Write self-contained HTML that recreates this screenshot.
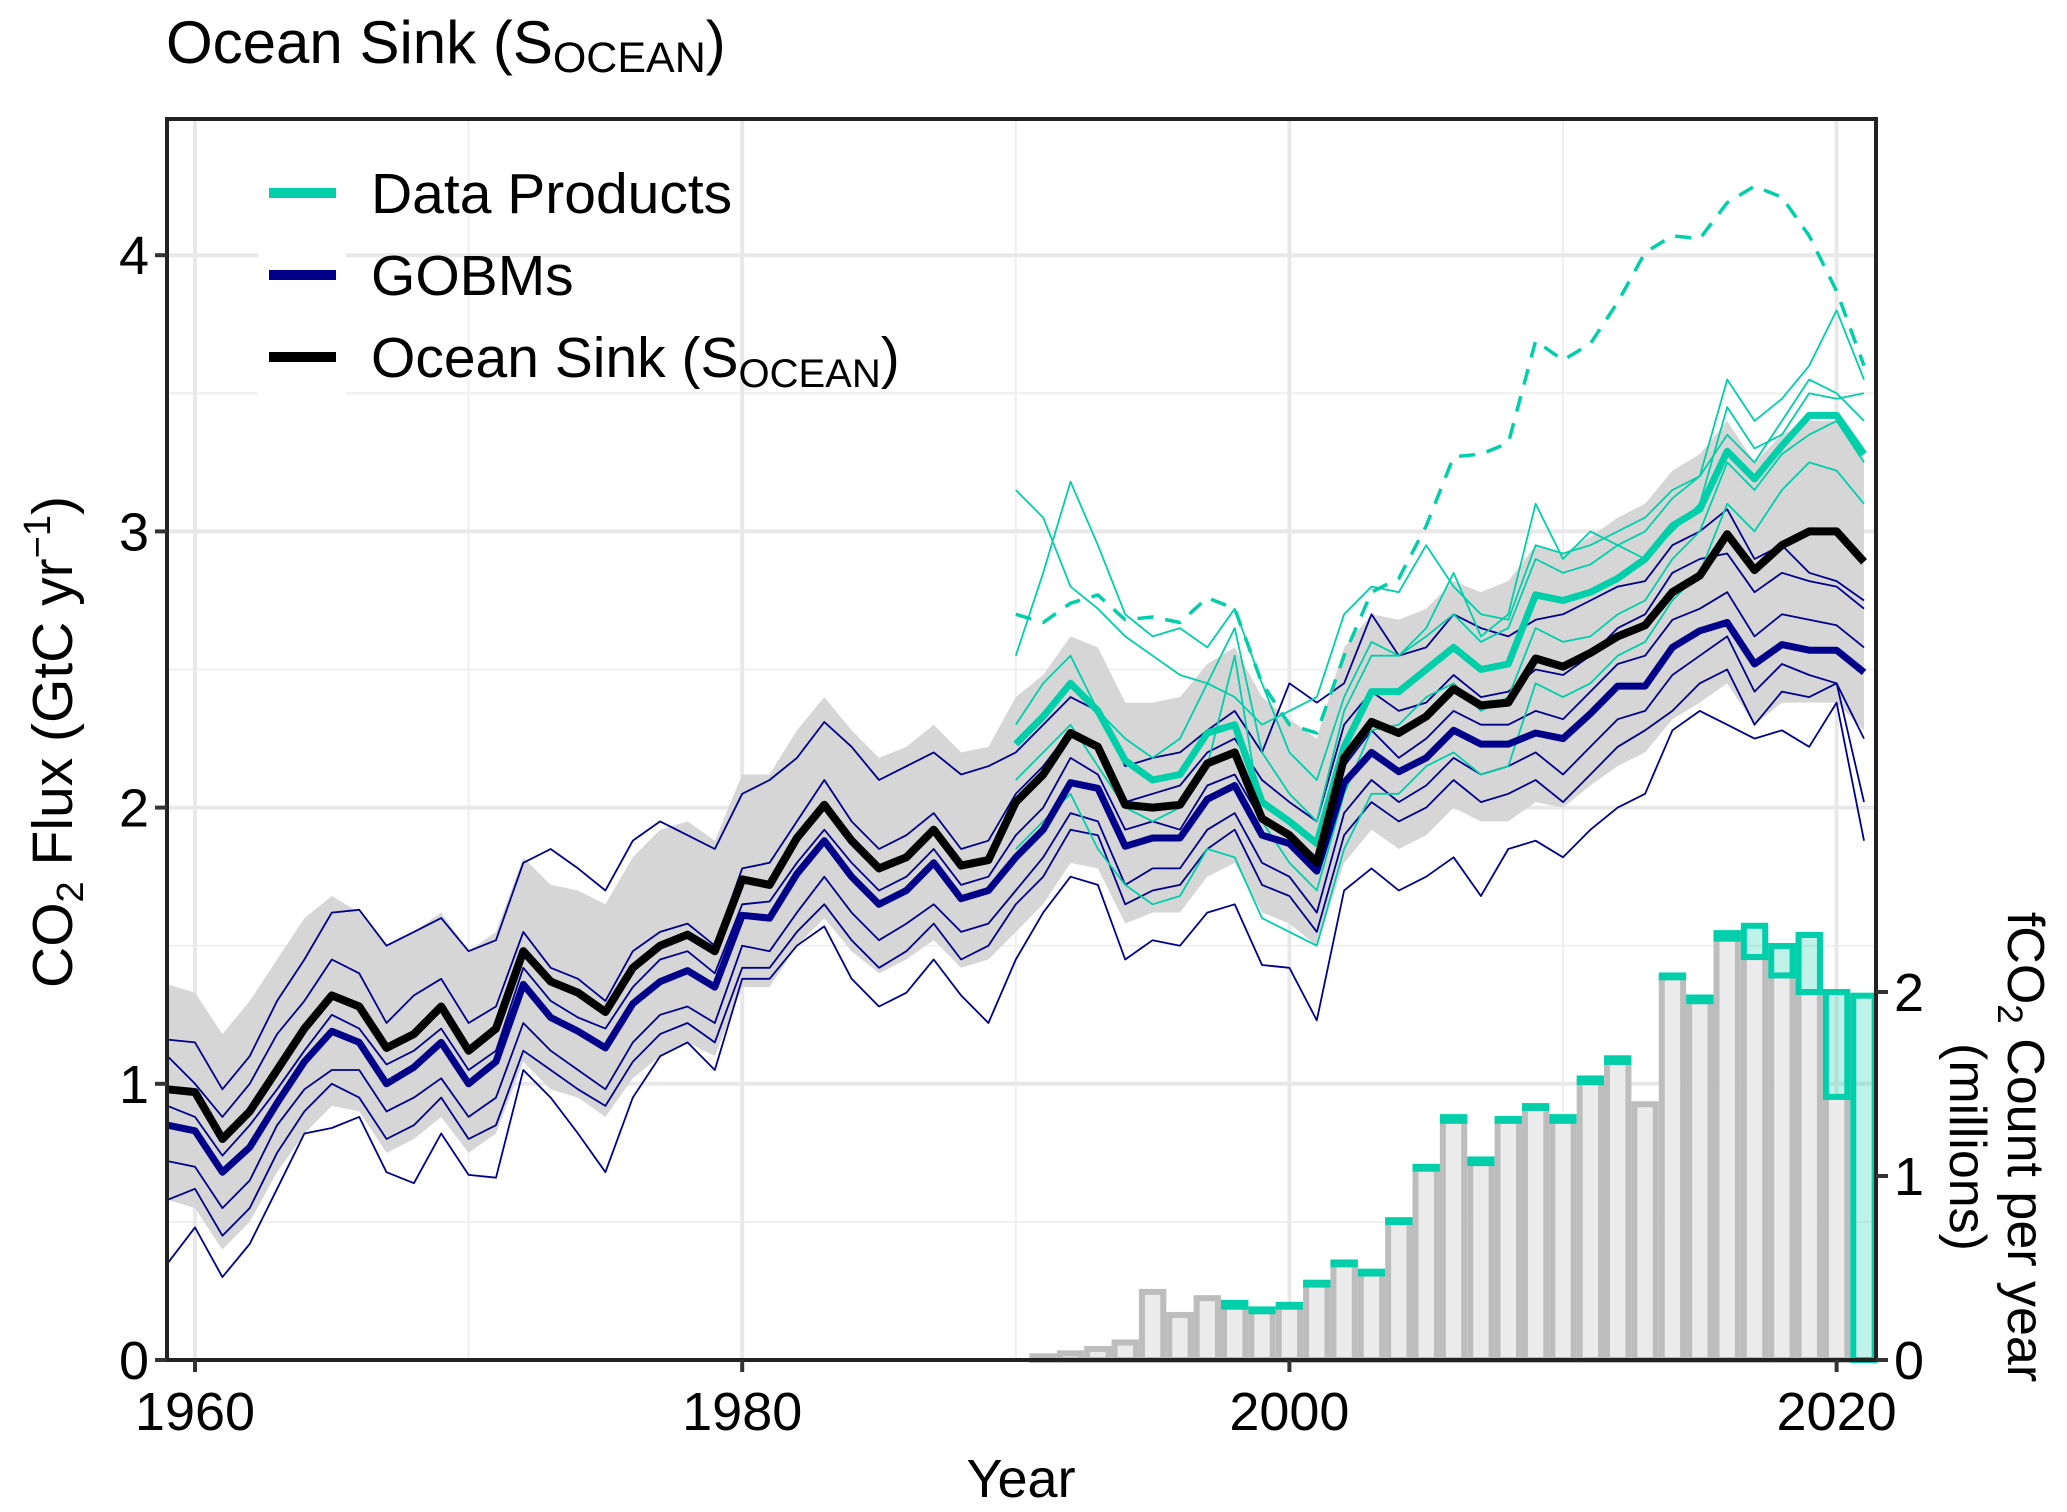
<!DOCTYPE html>
<html><head><meta charset="utf-8"><style>
html,body{margin:0;padding:0;background:#fff;}
svg{display:block;font-family:"Liberation Sans",Arial,sans-serif;}
</style></head><body>
<svg id="chart" width="2067" height="1512" viewBox="0 0 2067 1512" xmlns="http://www.w3.org/2000/svg">
<text x="166" y="63" font-size="60">Ocean Sink (S<tspan font-size="43" dy="9">OCEAN</tspan><tspan dy="-9">)</tspan></text>
<g id="grid"></g>
<g id="band"></g>
<g id="bars"></g>
<g id="lines"></g>
<g id="legend">
  <rect x="258" y="160" width="88" height="240" fill="#fff"/>
  <rect x="269" y="188" width="67" height="10" fill="#00cfaa"/>
  <text x="371" y="213" font-size="57">Data Products</text>
  <rect x="269" y="270" width="67" height="10" fill="#00008b"/>
  <text x="371" y="295" font-size="57">GOBMs</text>
  <rect x="269" y="352" width="67" height="10" fill="#000"/>
  <text x="371" y="377" font-size="57">Ocean Sink (S<tspan font-size="40" dy="10">OCEAN</tspan><tspan dy="-10">)</tspan></text>
</g>
<rect x="167" y="119" width="1709" height="1241" fill="none" stroke="#222" stroke-width="4"/>
<g id="axes"></g>
<text x="1021" y="1497" font-size="54" text-anchor="middle">Year</text>
<text transform="translate(72,742) rotate(-90)" font-size="57" text-anchor="middle">CO<tspan font-size="38" dy="11">2</tspan><tspan dy="-11"> Flux (GtC yr</tspan><tspan font-size="38" dy="-22">−1</tspan><tspan dy="22">)</tspan></text>
<text transform="translate(2008,1147) rotate(90)" font-size="52" text-anchor="middle">fCO<tspan font-size="35" dy="10">2</tspan><tspan dy="-10"> Count per year</tspan></text>
<text transform="translate(1950,1147) rotate(90)" font-size="52" text-anchor="middle">(millions)</text>
</svg>
<script>
const years = [];for(let y=1959;y<=2021;y++)years.push(y);
const dpYears = [];for(let y=1990;y<=2021;y++)dpYears.push(y);
const xTicks = [1960,1980,2000,2020];
const xMinor = [1970,1990,2010];
const yTicks = [0,1,2,3,4];
const yMinor = [0.5,1.5,2.5,3.5];
const rTicks = [0,1,2];
const socean = [0.98,0.97,0.80,0.90,1.05,1.20,1.32,1.28,1.13,1.18,1.28,1.12,1.20,1.48,1.37,1.33,1.26,1.42,1.50,1.54,1.48,1.74,1.72,1.89,2.01,1.88,1.78,1.82,1.92,1.79,1.81,2.02,2.12,2.27,2.22,2.01,2.00,2.01,2.16,2.20,1.96,1.90,1.80,2.18,2.31,2.27,2.33,2.43,2.37,2.38,2.54,2.51,2.56,2.62,2.66,2.78,2.84,2.99,2.86,2.95,3.00,3.00,2.89];
const gobmMean = [0.85,0.83,0.68,0.77,0.93,1.08,1.19,1.15,1.00,1.06,1.15,1.00,1.08,1.36,1.24,1.19,1.13,1.29,1.37,1.41,1.35,1.61,1.60,1.76,1.88,1.75,1.65,1.70,1.80,1.67,1.70,1.82,1.92,2.09,2.07,1.86,1.89,1.89,2.03,2.08,1.90,1.87,1.77,2.09,2.20,2.13,2.18,2.28,2.23,2.23,2.27,2.25,2.34,2.44,2.44,2.58,2.64,2.67,2.52,2.59,2.57,2.57,2.49];
const dpMean = [2.23,2.33,2.45,2.35,2.17,2.10,2.12,2.27,2.30,2.02,1.95,1.87,2.22,2.42,2.42,2.50,2.58,2.50,2.52,2.77,2.75,2.78,2.83,2.90,3.02,3.08,3.29,3.19,3.31,3.42,3.42,3.28];
const dpDashed = [2.70,2.67,2.74,2.77,2.68,2.69,2.67,2.76,2.72,2.45,2.30,2.27,2.55,2.78,2.83,3.02,3.27,3.28,3.32,3.69,3.62,3.68,3.83,4.01,4.07,4.06,4.19,4.25,4.21,4.07,3.87,3.60];
const bandUpper = [1.36,1.33,1.18,1.30,1.45,1.60,1.68,1.62,1.50,1.55,1.62,1.48,1.55,1.82,1.72,1.70,1.65,1.82,1.92,1.95,1.88,2.12,2.12,2.28,2.40,2.28,2.18,2.22,2.30,2.20,2.22,2.40,2.48,2.62,2.58,2.38,2.38,2.40,2.52,2.58,2.40,2.32,2.25,2.58,2.70,2.68,2.72,2.82,2.78,2.82,2.95,2.92,2.98,3.05,3.10,3.22,3.28,3.40,3.25,3.35,3.40,3.40,3.30];
const bandLower = [0.58,0.55,0.40,0.50,0.68,0.82,0.92,0.90,0.75,0.80,0.88,0.75,0.82,1.08,0.98,0.95,0.88,1.02,1.10,1.15,1.10,1.35,1.35,1.50,1.60,1.48,1.40,1.45,1.52,1.42,1.45,1.55,1.65,1.80,1.78,1.58,1.62,1.62,1.75,1.80,1.62,1.58,1.50,1.80,1.92,1.85,1.90,2.00,1.95,1.95,2.02,2.00,2.08,2.15,2.20,2.32,2.38,2.45,2.30,2.38,2.38,2.38,2.28];
const gobm1 = [1.16,1.15,0.98,1.10,1.30,1.45,1.62,1.63,1.50,1.55,1.60,1.48,1.52,1.80,1.85,1.78,1.70,1.88,1.95,1.90,1.85,2.05,2.10,2.18,2.31,2.22,2.10,2.15,2.20,2.12,2.15,2.20,2.30,2.40,2.35,2.15,2.18,2.20,2.28,2.35,2.20,2.45,2.38,2.45,2.70,2.55,2.58,2.70,2.65,2.62,2.68,2.70,2.75,2.80,2.82,2.95,3.00,3.08,2.90,2.95,2.85,2.82,2.75];
const gobm2 = [0.35,0.48,0.30,0.42,0.62,0.82,0.84,0.88,0.68,0.64,0.82,0.67,0.66,1.05,0.95,0.82,0.68,0.95,1.10,1.15,1.05,1.38,1.38,1.50,1.57,1.38,1.28,1.33,1.45,1.32,1.22,1.45,1.62,1.75,1.72,1.45,1.52,1.50,1.62,1.65,1.43,1.42,1.23,1.70,1.78,1.70,1.75,1.82,1.68,1.85,1.88,1.82,1.92,2.00,2.05,2.28,2.35,2.30,2.25,2.28,2.22,2.38,1.88];
const gobm3 = [0.92,0.88,0.74,0.85,0.98,1.12,1.25,1.20,1.07,1.12,1.20,1.05,1.12,1.42,1.30,1.24,1.20,1.35,1.45,1.48,1.40,1.65,1.66,1.80,1.92,1.80,1.70,1.75,1.85,1.72,1.75,1.90,2.00,2.18,2.12,1.92,1.95,1.92,2.08,2.12,1.95,1.90,1.82,2.15,2.28,2.18,2.25,2.35,2.30,2.30,2.35,2.32,2.42,2.52,2.55,2.68,2.72,2.78,2.62,2.70,2.68,2.66,2.58];
const gobm4 = [0.72,0.70,0.55,0.65,0.85,0.98,1.05,1.05,0.90,0.95,1.02,0.88,0.95,1.22,1.12,1.05,0.98,1.15,1.25,1.28,1.22,1.50,1.48,1.62,1.75,1.62,1.52,1.58,1.65,1.55,1.58,1.70,1.82,1.98,1.95,1.72,1.78,1.78,1.92,1.98,1.80,1.75,1.62,1.98,2.10,2.02,2.08,2.18,2.12,2.15,2.20,2.12,2.22,2.32,2.35,2.48,2.55,2.62,2.42,2.52,2.48,2.45,2.25];
const gobm5 = [1.10,1.00,0.88,1.00,1.18,1.30,1.45,1.40,1.22,1.32,1.38,1.22,1.28,1.55,1.42,1.38,1.30,1.48,1.55,1.58,1.50,1.78,1.80,1.95,2.10,1.95,1.85,1.90,1.98,1.85,1.88,2.05,2.15,2.28,2.22,2.02,2.05,2.08,2.20,2.25,2.10,2.02,1.95,2.30,2.42,2.35,2.38,2.48,2.40,2.42,2.50,2.48,2.55,2.65,2.70,2.85,2.90,2.92,2.78,2.85,2.82,2.80,2.72];
const gobm6 = [0.58,0.62,0.45,0.55,0.75,0.90,1.00,0.95,0.80,0.85,0.95,0.80,0.85,1.12,1.05,0.98,0.92,1.08,1.18,1.22,1.15,1.42,1.42,1.55,1.65,1.52,1.42,1.48,1.58,1.45,1.50,1.65,1.75,1.92,1.90,1.65,1.70,1.72,1.85,1.92,1.72,1.68,1.55,1.90,2.02,1.95,2.00,2.10,2.02,2.05,2.10,2.02,2.12,2.22,2.28,2.35,2.45,2.50,2.30,2.42,2.40,2.45,2.02];
const dp1 = [3.15,3.05,2.80,2.72,2.62,2.55,2.48,2.45,2.40,2.30,2.35,2.40,2.70,2.80,2.78,2.95,2.80,2.70,2.68,2.95,2.92,2.95,3.00,3.05,3.15,3.20,3.55,3.40,3.48,3.60,3.80,3.55];
const dp2 = [2.55,2.85,3.18,2.95,2.70,2.62,2.65,2.58,2.72,2.45,2.20,2.10,2.40,2.60,2.55,2.65,2.85,2.62,2.70,3.10,2.90,3.00,2.95,2.90,3.00,3.10,3.45,3.30,3.35,3.50,3.48,3.50];
const dp3 = [2.10,2.20,2.30,2.15,2.00,1.95,2.00,2.15,2.55,1.95,1.80,1.70,2.05,2.28,2.30,2.40,2.45,2.35,2.40,2.65,2.60,2.62,2.70,2.75,2.90,3.00,3.25,3.15,3.28,3.35,3.40,3.25];
const dp4 = [1.85,1.95,2.05,1.85,1.72,1.65,1.68,1.85,1.82,1.60,1.55,1.50,1.85,2.05,2.05,2.15,2.20,2.12,2.15,2.45,2.40,2.45,2.55,2.60,2.75,2.85,3.10,3.00,3.15,3.25,3.22,3.10];
const dp5 = [2.30,2.45,2.55,2.35,2.25,2.18,2.25,2.45,2.65,2.20,2.05,1.95,2.35,2.55,2.55,2.62,2.70,2.60,2.65,2.90,2.85,2.88,2.95,3.00,3.12,3.20,3.35,3.25,3.40,3.55,3.50,3.40];
const countGray = [0,0.02,0.036,0.06,0.095,0.37,0.245,0.336,0.29,0.265,0.29,0.41,0.52,0.47,0.75,1.04,1.30,1.07,1.30,1.37,1.30,1.51,1.62,1.39,2.08,1.95,2.29,2.19,2.09,2.00,1.43,0];
const countTotal = [0,0.02,0.036,0.06,0.095,0.37,0.245,0.336,0.31,0.275,0.30,0.42,0.53,0.48,0.76,1.05,1.32,1.09,1.31,1.38,1.32,1.53,1.64,1.39,2.09,1.97,2.32,2.36,2.25,2.31,2.00,1.98];

const NS="http://www.w3.org/2000/svg";
const X0=167,X1=1876,Y0=1360,Y1=119;
const xs=y=>195+(y-1960)*27.36;
const ys=v=>1360-v*276.2;
const yr=c=>1360-c*184;
function mk(parent,tag,attrs){const e=document.createElementNS(NS,tag);for(const k in attrs)e.setAttribute(k,attrs[k]);parent.appendChild(e);return e;}
const grid=document.getElementById('grid');
yMinor.forEach(v=>{const l=mk(grid,'line',{x1:X0,x2:X1,y1:ys(v),y2:ys(v),stroke:'#efefef','stroke-width':2});

});
xMinor.forEach(v=>{const l=mk(grid,'line',{x1:xs(v),x2:xs(v),y1:Y1,y2:Y0,stroke:'#efefef','stroke-width':2});

});
yTicks.forEach(v=>{const l=mk(grid,'line',{x1:X0,x2:X1,y1:ys(v),y2:ys(v),stroke:'#e8e8e8','stroke-width':4});

});
xTicks.forEach(v=>{const l=mk(grid,'line',{x1:xs(v),x2:xs(v),y1:Y1,y2:Y0,stroke:'#e8e8e8','stroke-width':4});

});
const bandG=document.getElementById('band');
let d=years.map((y,i)=>(i?'L':'M')+xs(y)+','+ys(bandUpper[i])).join('');
for(let i=years.length-1;i>=0;i--)d+='L'+xs(years[i])+','+ys(bandLower[i]);
const bp=mk(bandG,'path',{d:d+'Z',fill:'#d6d6d6'});


const barsG=document.getElementById('bars');
dpYears.forEach((y,i)=>{
  const xl=xs(y-0.5)+3,w=27.36-6;
  if(countGray[i]>0){const r=mk(barsG,'rect',{x:xl,y:yr(countGray[i]),width:w,height:yr(0)-yr(countGray[i]),fill:'#ebebeb',stroke:'#bdbdbd','stroke-width':6});
  
  }
  if(countTotal[i]-countGray[i]>0.005){const r=mk(barsG,'rect',{x:xl,y:yr(countTotal[i]),width:w,height:yr(countGray[i])-yr(countTotal[i]),fill:'rgba(0,207,170,0.25)',stroke:'#00cfaa','stroke-width':6});
  
  }
});
const linesG=document.getElementById('lines');
function line(xv,vals,color,w,name,dash){
  const p=mk(linesG,'path',{d:vals.map((v,i)=>(i?'L':'M')+xs(xv[i]).toFixed(1)+','+ys(v).toFixed(1)).join(''),fill:'none',stroke:color,'stroke-width':w,'stroke-linejoin':'round'});
  if(dash)p.setAttribute('stroke-dasharray',dash);
  
  
}
[gobm1,gobm2,gobm3,gobm4,gobm5,gobm6].forEach((s,k)=>line(years,s,'#00008b',1.8,'gobm-model-'+(k+1)));
[dp1,dp2,dp3,dp4,dp5].forEach((s,k)=>line(dpYears,s,'#00cfaa',1.8,'data-product-'+(k+1)));
line(dpYears,dpDashed,'#00cfaa',3.5,'data-product-dashed','16,12');
line(years,gobmMean,'#00008b',7,'gobm-mean-line');
line(dpYears,dpMean,'#00cfaa',7,'data-products-mean-line');
line(years,socean,'#000',8,'ocean-sink-line');
const ax=document.getElementById('axes');
yTicks.forEach(v=>{
  const t=mk(ax,'line',{x1:X0-12,x2:X0,y1:ys(v),y2:ys(v),stroke:'#333','stroke-width':4});
  
  
  const tx=mk(ax,'text',{x:X0-18,y:ys(v)+19,'font-size':54,'text-anchor':'end'});tx.textContent=v;
  
  
});
xTicks.forEach(v=>{
  const t=mk(ax,'line',{x1:xs(v),x2:xs(v),y1:Y0,y2:Y0+12,stroke:'#333','stroke-width':4});
  
  
  const tx=mk(ax,'text',{x:xs(v),y:1430,'font-size':54,'text-anchor':'middle'});tx.textContent=v;
  
  
});
rTicks.forEach(v=>{
  const t=mk(ax,'line',{x1:X1,x2:X1+12,y1:yr(v),y2:yr(v),stroke:'#333','stroke-width':4});
  
  
  const tx=mk(ax,'text',{x:X1+18,y:yr(v)+19,'font-size':54});tx.textContent=v;
  
  
});
</script>
</body></html>
